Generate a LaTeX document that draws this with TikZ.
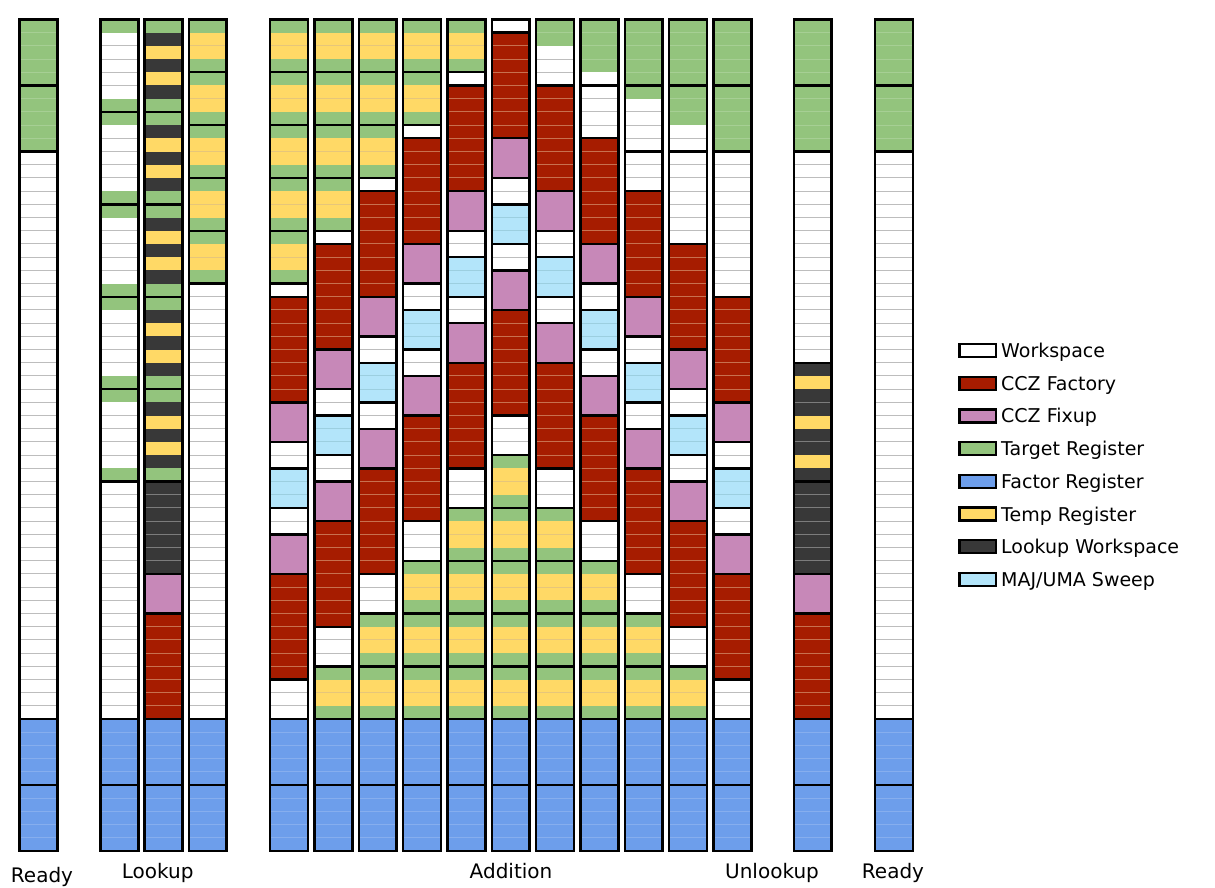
\documentclass[tikz,border=0pt]{standalone}
\usepackage{fontspec}
\setmainfont{DejaVu Sans}
\pgfdeclarelayer{rowlines}
\pgfdeclarelayer{borders}
\pgfsetlayers{main,rowlines,borders}
\definecolor{cW}{HTML}{FFFFFF}
\definecolor{cR}{HTML}{A61C00}
\definecolor{cP}{HTML}{C788B8}
\definecolor{cG}{HTML}{93C47D}
\definecolor{cB}{HTML}{6D9EEB}
\definecolor{cY}{HTML}{FFD966}
\definecolor{cD}{HTML}{383838}
\definecolor{cL}{HTML}{B3E5FA}
\definecolor{lW}{HTML}{BDBDBD}
\definecolor{lR}{HTML}{C8704F}
\definecolor{lP}{HTML}{C788B8}
\definecolor{lG}{HTML}{A6CF94}
\definecolor{lB}{HTML}{86AEEE}
\definecolor{lY}{HTML}{E6C67A}
\definecolor{lD}{HTML}{7C7C7C}
\definecolor{lL}{HTML}{9CCFE0}
\tikzset{
  blockline/.style={draw=black, line width=2.4pt},
  rowline/.style={line width=0.9pt},
  lbl/.style={font=\fontsize{20}{24}\selectfont, inner sep=0pt, anchor=base},
  legtext/.style={font=\fontsize{19}{23}\selectfont, inner sep=0pt, anchor=base west},
  swatch/.style={draw=black, line width=2.4pt},
}
\def\colw{37.8}
% uniform block: x, first row, rows, colour letter
\newcommand\uni[4]{%
  \fill[fill=c#4] (#1,#2) rectangle ++(\colw,#3);
  \ifnum#3>1
    \pgfmathtruncatemacro\unim{#3-1}%
    \begin{pgfonlayer}{rowlines}
    \foreach \kk in {1,...,\unim} {\draw[rowline, draw=l#4] (#1,#2+\kk) -- ++(\colw,0);}
    \end{pgfonlayer}
  \fi
  \begin{pgfonlayer}{borders}
  \draw[blockline] (#1,#2) rectangle ++(\colw,#3);
  \end{pgfonlayer}
}
% mixed block: x, first row, list of colour letters
\newcommand\blk[3]{%
  \gdef\prevc{}%
  \foreach \cc [count=\ri from 0] in {#3} {%
    \fill[fill=c\cc] (#1,#2+\ri) rectangle ++(\colw,1);
    \edef\curc{\cc}%
    \ifx\curc\prevc
      \begin{pgfonlayer}{rowlines}\draw[rowline, draw=l\cc] (#1,#2+\ri) -- ++(\colw,0);\end{pgfonlayer}
    \fi
    \global\let\prevc\curc
    \xdef\blkn{\the\numexpr\ri+1\relax}%
  }%
  \begin{pgfonlayer}{borders}
  \draw[blockline] (#1,#2) rectangle ++(\colw,\blkn);
  \end{pgfonlayer}
}
\newcommand\gy[2]{\blk{#1}{#2}{G,Y,Y,G}}
\newcommand\tgt[1]{\uni{#1}{0}{5}{G}\uni{#1}{5}{5}{G}}
\newcommand\fac[1]{\uni{#1}{53}{5}{B}\uni{#1}{58}{5}{B}}
\newcommand\addmid[2]{%
  \uni{#1}{#2+1}{8}{R}%
  \uni{#1}{#2+9}{3}{P}%
  \uni{#1}{#2+12}{2}{W}%
  \uni{#1}{#2+14}{3}{L}%
  \uni{#1}{#2+17}{2}{W}%
  \uni{#1}{#2+19}{3}{P}%
  \uni{#1}{#2+22}{8}{R}%
  \uni{#1}{#2+30}{3}{W}%
}
\begin{document}
\begin{tikzpicture}[x=1pt,y=-1pt]
\useasboundingbox (0,0) rectangle (1215,888);
\fill[white] (0,0) rectangle (1215,888);
\begin{scope}[yshift=-19.5pt, y=-13.2pt]
% Ready
\tgt{19.5}\uni{19.5}{10}{43}{W}\fac{19.5}
% Lookup 1
\blk{100.5}{0}{G,W,W,W,W,W,G}\blk{100.5}{7}{G,W,W,W,W,W,G}\blk{100.5}{14}{G,W,W,W,W,W,G}
\blk{100.5}{21}{G,W,W,W,W,W,G}\blk{100.5}{28}{G,W,W,W,W,W,G}
\uni{100.5}{35}{18}{W}\fac{100.5}
% Lookup 2
\blk{144.6}{0}{G,D,Y,D,Y,D,G}\blk{144.6}{7}{G,D,Y,D,Y,D,G}\blk{144.6}{14}{G,D,Y,D,Y,D,G}
\blk{144.6}{21}{G,D,Y,D,Y,D,G}\blk{144.6}{28}{G,D,Y,D,Y,D,G}
\uni{144.6}{35}{7}{D}\uni{144.6}{42}{3}{P}\uni{144.6}{45}{8}{R}\fac{144.6}
% Lookup 3
\gy{188.8}{0}\gy{188.8}{4}\gy{188.8}{8}\gy{188.8}{12}\gy{188.8}{16}
\uni{188.8}{20}{33}{W}\fac{188.8}
% Addition 1
\gy{270.2}{0}\gy{270.2}{4}\gy{270.2}{8}\gy{270.2}{12}\gy{270.2}{16}
\uni{270.2}{20}{1}{W}\addmid{270.2}{20}\fac{270.2}
% Addition 2
\gy{314.53}{0}\gy{314.53}{4}\gy{314.53}{8}\gy{314.53}{12}
\uni{314.53}{16}{1}{W}\addmid{314.53}{16}\gy{314.53}{49}\fac{314.53}
% Addition 3
\gy{358.86}{0}\gy{358.86}{4}\gy{358.86}{8}
\uni{358.86}{12}{1}{W}\addmid{358.86}{12}\gy{358.86}{45}\gy{358.86}{49}\fac{358.86}
% Addition 4
\gy{403.19}{0}\gy{403.19}{4}
\uni{403.19}{8}{1}{W}\addmid{403.19}{8}\gy{403.19}{41}\gy{403.19}{45}\gy{403.19}{49}\fac{403.19}
% Addition 5
\gy{447.52}{0}
\uni{447.52}{4}{1}{W}\addmid{447.52}{4}\gy{447.52}{37}\gy{447.52}{41}\gy{447.52}{45}\gy{447.52}{49}\fac{447.52}
% Addition 6
\uni{491.85}{0}{1}{W}\addmid{491.85}{0}\gy{491.85}{33}\gy{491.85}{37}\gy{491.85}{41}\gy{491.85}{45}\gy{491.85}{49}\fac{491.85}
% Addition 7
\blk{536.18}{0}{G,G,W,W,W}\addmid{536.18}{4}\gy{536.18}{37}\gy{536.18}{41}\gy{536.18}{45}\gy{536.18}{49}\fac{536.18}
% Addition 8
\blk{580.51}{0}{G,G,G,G,W}\uni{580.51}{5}{4}{W}\addmid{580.51}{8}\gy{580.51}{41}\gy{580.51}{45}\gy{580.51}{49}\fac{580.51}
% Addition 9
\uni{624.84}{0}{5}{G}\blk{624.84}{5}{G,W,W,W,W}\uni{624.84}{10}{3}{W}\addmid{624.84}{12}\gy{624.84}{45}\gy{624.84}{49}\fac{624.84}
% Addition 10
\uni{669.17}{0}{5}{G}\blk{669.17}{5}{G,G,G,W,W}\uni{669.17}{10}{7}{W}\addmid{669.17}{16}\gy{669.17}{49}\fac{669.17}
% Addition 11
\uni{713.5}{0}{5}{G}\uni{713.5}{5}{5}{G}\uni{713.5}{10}{11}{W}\addmid{713.5}{20}\fac{713.5}
% Unlookup
\tgt{793.8}\uni{793.8}{10}{16}{W}\blk{793.8}{26}{D,Y,D,D,Y,D,D,Y,D}
\uni{793.8}{35}{7}{D}\uni{793.8}{42}{3}{P}\uni{793.8}{45}{8}{R}\fac{793.8}
% Ready
\tgt{875.2}\uni{875.2}{10}{43}{W}\fac{875.2}
\end{scope}
% labels
\node[lbl] (lready1) at (42,882) {Ready};
\node[lbl] (llookup) at (157.7,878) {Lookup};
\node[lbl] (laddition) at (511,878) {Addition};
\node[lbl] (lunlookup) at (772,878) {Unlookup};
\node[lbl] (lready2) at (893,878) {Ready};
% legend
\foreach \col/\txt [count=\n from 0] in {cW/{Workspace}, cR/{CCZ Factory}, cP/{CCZ Fixup}, cG/{Target Register}, cB/{Factor Register}, cY/{Temp Register}, cD/{Lookup Workspace}, cL/{MAJ/UMA Sweep}} {
  \draw[swatch, fill=\col] (959.5,{350.5+32.7*\n-6.5}) rectangle ++(36.5,13);
  \node[legtext] (leg\n) at (1001,{350.5+32.7*\n+7}) {\txt};
}
\end{tikzpicture}
\end{document}
